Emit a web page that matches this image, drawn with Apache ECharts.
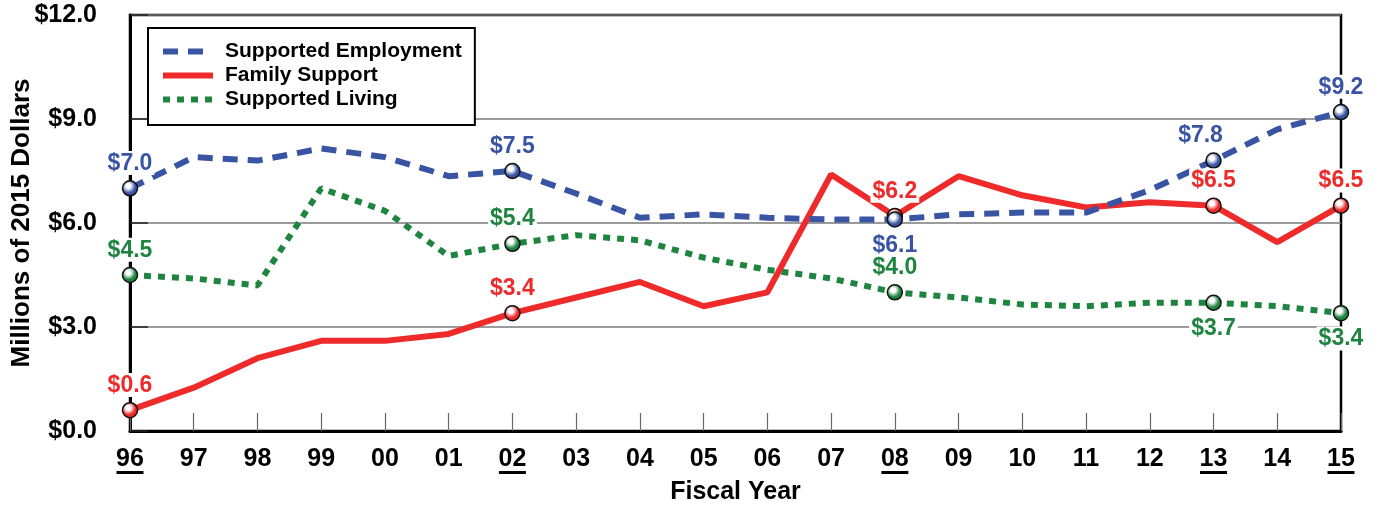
<!DOCTYPE html>
<html>
<head>
<meta charset="utf-8">
<script src="https://cdn.jsdelivr.net/npm/echarts@6/dist/echarts.min.js"></script>
<style>
  html, body { margin: 0; padding: 0; background: #fff; }
  #chart { width: 1381px; height: 505px; }
</style>
</head>
<body>
<div id="chart"></div>
<script>
// fiscal years (underlined ones carry a data label)
var years = ['96', '97', '98', '99', '00', '01', '02', '03', '04', '05',
             '06', '07', '08', '09', '10', '11', '12', '13', '14', '15'];
var markedYears = ['96', '02', '08', '13', '15'];

// millions of 2015 dollars
var employment = [7.0, 7.9, 7.8, 8.15, 7.9, 7.35, 7.5, 6.85, 6.15, 6.25,
                  6.15, 6.1, 6.1, 6.25, 6.3, 6.3, 6.95, 7.8, 8.7, 9.2];
var family = [0.6, 1.25, 2.1, 2.6, 2.6, 2.8, 3.4, 3.85, 4.3, 3.6,
              4.0, 7.4, 6.2, 7.35, 6.8, 6.45, 6.6, 6.5, 5.45, 6.5];
var living = [4.5, 4.4, 4.2, 7.0, 6.35, 5.05, 5.4, 5.65, 5.5, 5.0,
              4.65, 4.4, 4.0, 3.85, 3.65, 3.6, 3.7, 3.7, 3.6, 3.4];

var yTicks = [0, 3, 6, 9, 12];

var BLUE = '#3a54a4';
var RED = '#ee2a2a';
var GREEN = '#1f8440';

var labelFont = 'Liberation Sans, Arial, sans-serif';
var narrowFont = 'Liberation Sans Narrow, Arial Narrow, Liberation Sans, sans-serif';

// ball-like marker fill, small highlight top-left
function ball(color) {
  return {
    type: 'radial', x: 0.4, y: 0.36, r: 0.7,
    colorStops: [{ offset: 0, color: '#fff' }, { offset: 0.2, color: '#fff' }, { offset: 0.6, color: color }, { offset: 1, color: color }]
  };
}

// put markers + labels on the marked years; placement per year comes from `place`
function buildData(values, color, place) {
  return values.map(function (v, i) {
    var yr = years[i];
    if (markedYears.indexOf(yr) < 0) return v;
    var p = place[yr] || {};
    return {
      value: v,
      symbol: 'circle',
      symbolSize: 15,
      itemStyle: { color: ball(color), borderColor: '#111', borderWidth: 1.5 },
      label: {
        show: true,
        position: p.pos || 'top',
        offset: p.offset || [0, 0],
        distance: 5,
        formatter: function (prm) { return '$' + prm.value.toFixed(1); },
        color: color,
        fontFamily: labelFont,
        fontWeight: 'bold',
        fontSize: 23,
        backgroundColor: '#fff',
        padding: [1, 2, 0, 2]
      }
    };
  });
}

var chart = echarts.init(document.getElementById('chart'));
chart.setOption({
  animation: false,
  backgroundColor: '#fff',
  grid: {
    left: 130,
    right: 40,
    top: 15,
    bottom: 74,
    outerBoundsMode: 'none',
    show: true,
    borderColor: '#000',
    borderWidth: 2.5
  },
  legend: {
    data: ['Supported Employment', 'Family Support', 'Supported Living'],
    orient: 'vertical',
    left: 148,
    top: 28,
    padding: [13, 13, 15, 12],
    itemGap: 3,
    itemWidth: 50,
    itemHeight: 14,
    backgroundColor: '#fff',
    borderColor: '#000',
    borderWidth: 2,
    itemStyle: { opacity: 0 },
    lineStyle: { width: 6 },
    textStyle: {
      fontFamily: labelFont,
      fontWeight: 'bold',
      fontSize: 21,
      lineHeight: 21,
      color: '#000',
      padding: [0, 0, 0, 7]
    }
  },
  xAxis: {
    type: 'category',
    data: years,
    boundaryGap: false,
    name: 'Fiscal Year',
    nameLocation: 'middle',
    nameGap: 49,
    nameMoveOverlap: false,
    nameTextStyle: { fontFamily: narrowFont, fontWeight: 'bold', fontSize: 25, color: '#000' },
    axisLine: { lineStyle: { color: '#000', width: 3 } },
    axisTick: { inside: true, length: 18, lineStyle: { color: '#666', width: 1.2 } },
    axisLabel: {
      margin: 17,
      interval: 0,
      formatter: function (v) {
        return markedYears.indexOf(v) >= 0 ? '{n|' + v + '}\n{bar|}' : '{n|' + v + '}';
      },
      rich: {
        n: { fontFamily: narrowFont, fontWeight: 'bold', fontSize: 25, lineHeight: 23, color: '#000' },
        bar: { width: 27, height: 3, backgroundColor: '#000' }
      }
    },
    splitLine: { show: false }
  },
  yAxis: {
    type: 'value',
    min: yTicks[0],
    max: yTicks[yTicks.length - 1],
    interval: 3,
    name: 'Millions of 2015 Dollars',
    nameLocation: 'middle',
    nameGap: 95,
    nameMoveOverlap: false,
    nameTextStyle: { fontFamily: labelFont, fontWeight: 'bold', fontSize: 26, color: '#000' },
    axisLine: { show: true, lineStyle: { color: '#000', width: 3 } },
    axisTick: { show: true, inside: true, length: 18, lineStyle: { color: '#222', width: 1.5 } },
    axisLabel: {
      margin: 33,
      fontFamily: labelFont,
      fontWeight: 'bold',
      fontSize: 25,
      color: '#000',
      formatter: function (v) { return '$' + v.toFixed(1); }
    },
    splitLine: { lineStyle: { color: '#7a7a7a', width: 1.5 } }
  },
  series: [
    {
      name: 'Supported Living',
      type: 'line',
      symbol: 'none',
      color: GREEN,
      lineStyle: { color: GREEN, width: 6, type: [7, 7], cap: 'butt' },
      data: buildData(living, GREEN, {
        '13': { pos: 'bottom' },
        '15': { pos: 'bottom' }
      })
    },
    {
      name: 'Family Support',
      type: 'line',
      symbol: 'none',
      color: RED,
      lineStyle: { color: RED, width: 6 },
      data: buildData(family, RED, {})
    },
    {
      name: 'Supported Employment',
      type: 'line',
      symbol: 'none',
      color: BLUE,
      lineStyle: { color: BLUE, width: 6, type: [15, 10], cap: 'butt' },
      data: buildData(employment, BLUE, {
        '08': { pos: 'bottom' },
        '13': { offset: [-13, 0] }
      })
    }
  ]
});
</script>
</body>
</html>
